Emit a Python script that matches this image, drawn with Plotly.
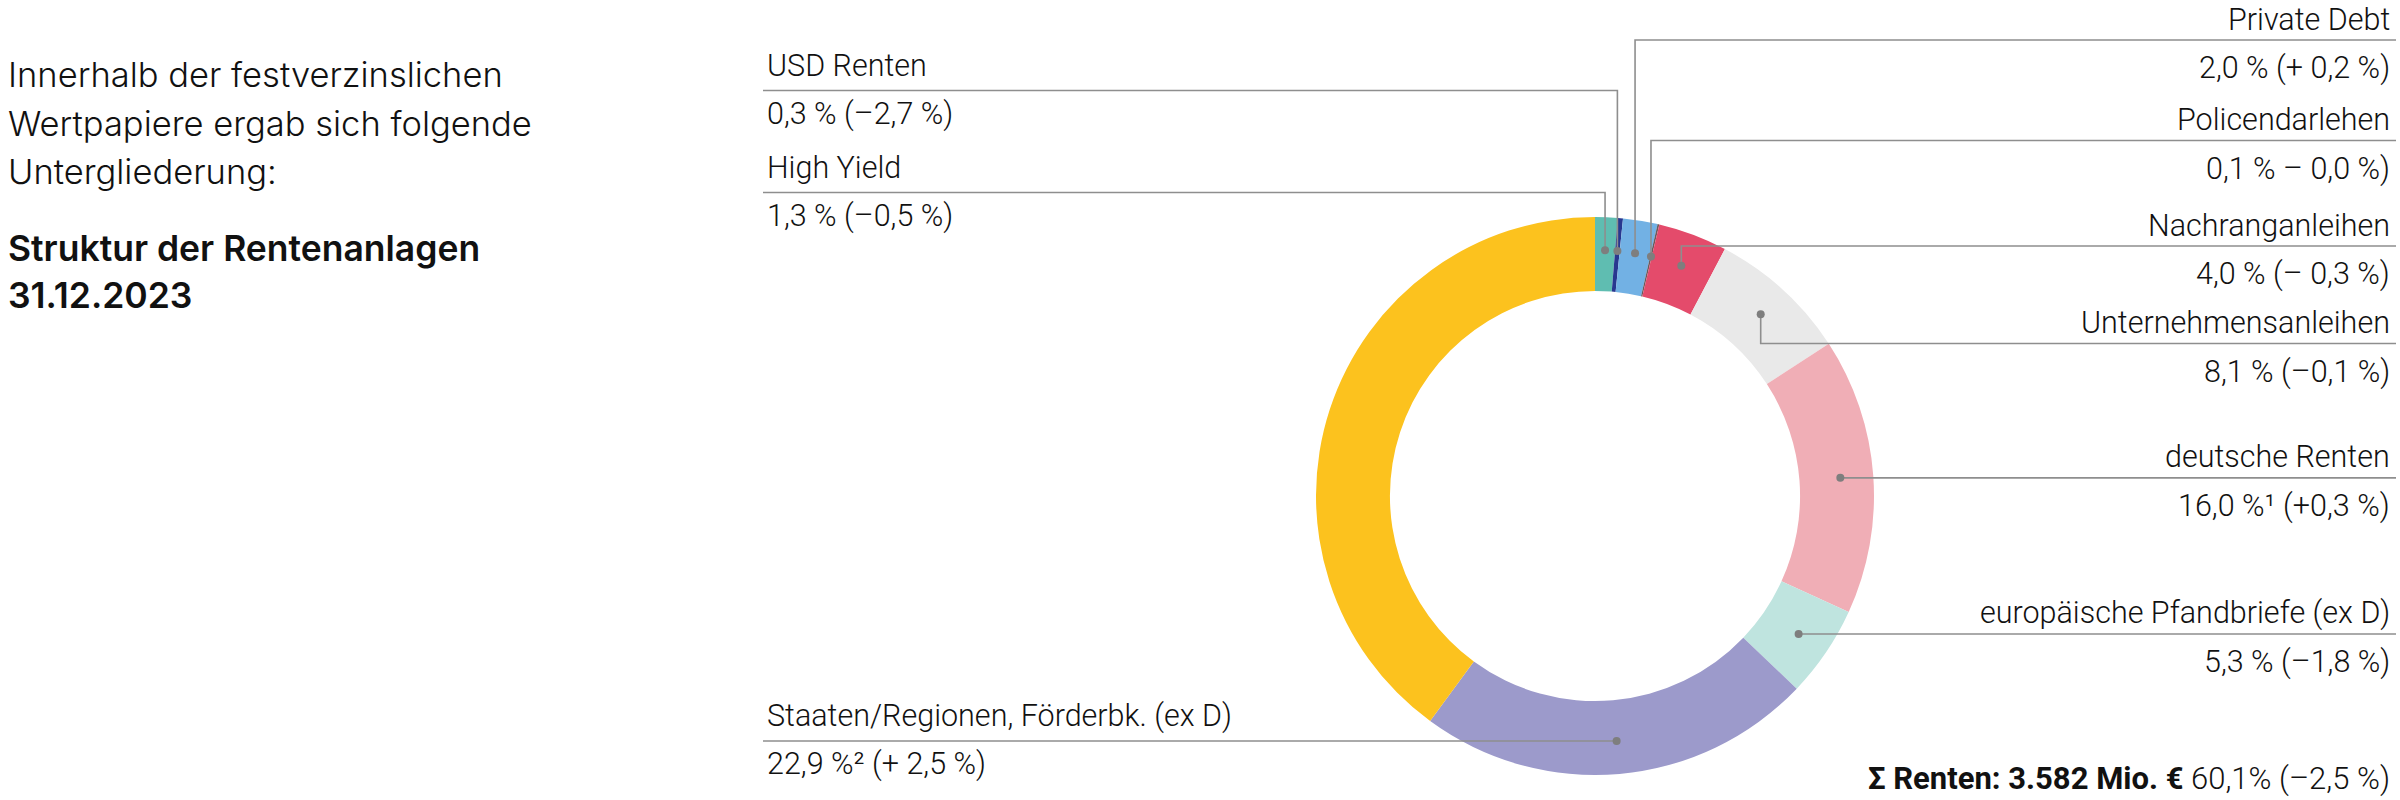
import math
import plotly.graph_objects as go

W, H = 2400, 800

# ---------------- data ----------------
categories = [
    "High Yield", "USD Renten", "Private Debt", "Policendarlehen", "Nachranganleihen",
    "Unternehmensanleihen", "deutsche Renten", "europäische Pfandbriefe (ex D)",
    "Staaten/Regionen, Förderbk. (ex D)", "übrige Kapitalanlagen",
]
shares = [1.3, 0.3, 2.0, 0.1, 4.0, 8.1, 16.0, 5.3, 22.9, 39.9]
value_labels = [
    "1,3 % (–0,5 %)", "0,3 % (–2,7 %)", "2,0 % (+ 0,2 %)", "0,1 % – 0,0 %)",
    "4,0 % (– 0,3 %)", "8,1 % (–0,1 %)", "16,0 %¹ (+0,3 %)", "5,3 % (–1,8 %)",
    "22,9 %² (+ 2,5 %)", "",
]
colors = ["#5fbdb1", "#28378f", "#72b1e4", "#6b5a5d", "#e44b6b",
          "#e9e9e9", "#f0aeb6", "#bfe4df", "#9c9acb", "#fcc21e"]

intro_lines = ["Innerhalb der festverzinslichen", "Wertpapiere ergab sich folgende", "Untergliederung:"]
title_lines = ["Struktur der Rentenanlagen", "31.12.2023"]
total_bold = "Σ Renten: 3.582 Mio. €"
total_rest = "60,1% (–2,5 %)"

# ---------------- layout constants ----------------
CX, CY = 1595, 496          # donut centre (px)
R_OUT = 279
HOLE = 0.735
R_DOT = 246
LEFT_X, RIGHT_X = 765, 2392
LINE_L, LINE_R = 763, 2396
# side and y of horizontal leader line (None -> at dot height)
label_side = ["left", "left", "right", "right", "right", "right", "right", "right", "left", None]
label_line_y = [192.5, 90.5, 40, 140.5, 246, 343.5, None, None, None, None]

LABEL_FONT = "Roboto, 'Liberation Sans', Arial, sans-serif"
INTRO_FONT = "Inter, Roboto, 'Liberation Sans', sans-serif"
LINE_COLOR = "#8e8e8e"
DOT_COLOR = "#7e7e7e"

fig = go.Figure()

# invisible trace to create pixel-mapped axes
fig.add_trace(go.Scatter(x=[0, W], y=[0, H], mode="markers", marker=dict(opacity=0),
                         hoverinfo="skip", showlegend=False))

fig.add_trace(go.Pie(
    labels=categories, values=shares, sort=False, direction="clockwise", rotation=0,
    hole=HOLE, textinfo="none", hoverinfo="label+value",
    marker=dict(colors=colors, line=dict(width=0)),
    domain=dict(x=[(CX - R_OUT) / W, (CX + R_OUT) / W],
                y=[1 - (CY + R_OUT) / H, 1 - (CY - R_OUT) / H]),
    showlegend=False,
))

shapes = []
annotations = []
total = sum(shares)
cum = 0.0
for i, v in enumerate(shares):
    mid = (cum + v / 2) / total * 2 * math.pi
    cum += v
    side = label_side[i]
    if side is None:
        continue
    dx = CX + R_DOT * math.sin(mid)
    dy = CY - R_DOT * math.cos(mid)
    ly = label_line_y[i] if label_line_y[i] is not None else dy
    edge = LINE_L if side == "left" else LINE_R
    path = f"M {edge},{ly} L {dx},{ly} L {dx},{dy}"
    shapes.append(dict(type="path", path=path, xref="x", yref="y", layer="above",
                       line=dict(color=LINE_COLOR, width=1.6)))
    shapes.append(dict(type="circle", xref="x", yref="y", layer="above",
                       x0=dx - 4, x1=dx + 4, y0=dy - 4, y1=dy + 4,
                       fillcolor=DOT_COLOR, line=dict(width=0)))
    ax = LEFT_X if side == "left" else RIGHT_X
    anchor = "left" if side == "left" else "right"
    off_name, off_val = (-25, 23) if side == "left" else (-21, 28)
    annotations.append(dict(x=ax, y=ly + off_name, xref="x", yref="y", text=categories[i],
                            showarrow=False, xanchor=anchor, yanchor="middle",
                            font=dict(family=LABEL_FONT, size=30.5, color="#111111", weight=300)))
    annotations.append(dict(x=ax, y=ly + off_val, xref="x", yref="y", text=value_labels[i],
                            showarrow=False, xanchor=anchor, yanchor="middle",
                            font=dict(family=LABEL_FONT, size=30.5, color="#111111", weight=300)))

# total line
annotations.append(dict(x=RIGHT_X, y=778, xref="x", yref="y",
                        text=f"<b>{total_bold}</b> {total_rest}", showarrow=False,
                        xanchor="right", yanchor="middle",
                        font=dict(family=LABEL_FONT, size=31, color="#111111", weight=300)))

# intro text
for j, t in enumerate(intro_lines):
    annotations.append(dict(x=6, y=74.5 + 48.5 * j, xref="x", yref="y", text=t, showarrow=False,
                            xanchor="left", yanchor="middle",
                            font=dict(family=INTRO_FONT, size=34.5, color="#111111", weight=300)))
for j, t in enumerate(title_lines):
    annotations.append(dict(x=6, y=248 + 47 * j, xref="x", yref="y", text=t, showarrow=False,
                            xanchor="left", yanchor="middle",
                            font=dict(family=INTRO_FONT, size=35.5, color="#111111", weight=600)))

fig.update_layout(
    width=W, height=H, margin=dict(l=0, r=0, t=0, b=0),
    paper_bgcolor="white", plot_bgcolor="white",
    xaxis=dict(range=[0, W], visible=False, domain=[0, 1], fixedrange=True),
    yaxis=dict(range=[H, 0], visible=False, domain=[0, 1], fixedrange=True),
    shapes=shapes, annotations=annotations, showlegend=False,
)

fig.write_html("out.html", config={"displayModeBar": False},
               post_script="document.body.style.margin='0px';document.body.style.overflow='hidden';")
